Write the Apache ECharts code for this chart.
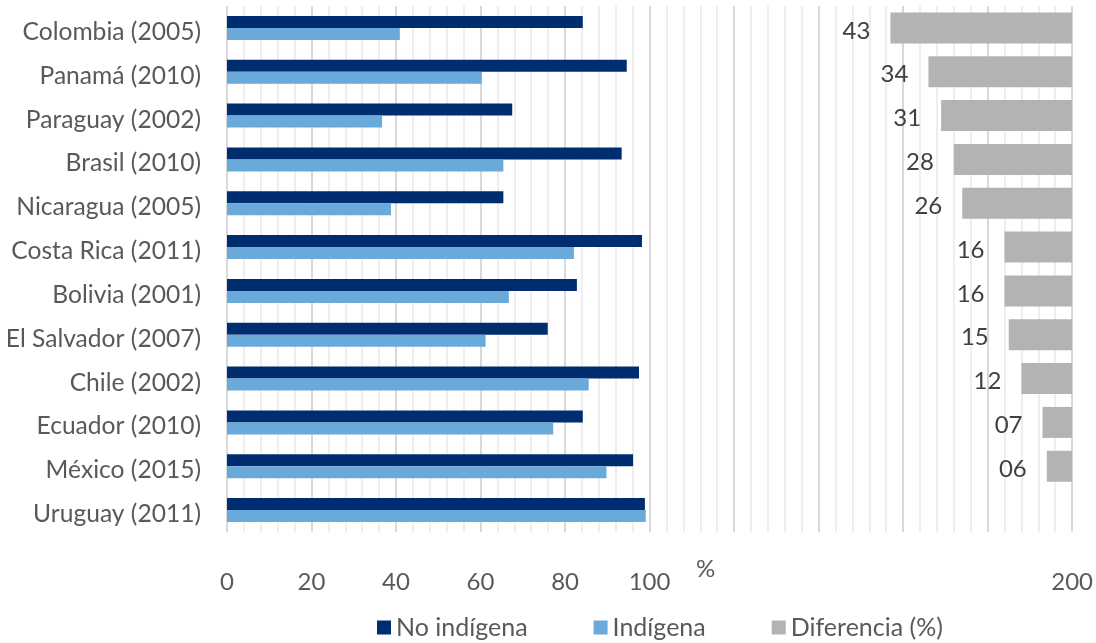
<!DOCTYPE html>
<html>
<head>
<meta charset="utf-8">
<script src="https://cdn.jsdelivr.net/npm/echarts@6/dist/echarts.min.js"></script>
<style>
  html, body { margin: 0; padding: 0; background: #fff; }
  #chart { width: 1096px; height: 643px; }
</style>
</head>
<body>
<div id="chart"></div>
<script>
// Países y año del censo
const categories = [
  'Colombia (2005)', 'Panamá (2010)', 'Paraguay (2002)', 'Brasil (2010)',
  'Nicaragua (2005)', 'Costa Rica (2011)', 'Bolivia (2001)', 'El Salvador (2007)',
  'Chile (2002)', 'Ecuador (2010)', 'México (2015)', 'Uruguay (2011)'
];
// Porcentajes por población
const noIndigena = [84.2, 94.6, 67.5, 93.4, 65.4, 98.2, 82.8, 75.9, 97.5, 84.2, 96.1, 98.9];
const indigena   = [40.9, 60.3, 36.7, 65.4, 38.8, 82.1, 66.7, 61.2, 85.6, 77.2, 89.8, 99.1];
// Brecha entre ambos grupos
const diferencia = [43, 34, 31, 28, 26, 16, 16, 15, 12, 7, 6, '-'];
// Marcas del eje horizontal que llevan texto
const tickLabels = [0, 20, 40, 60, 80, 100, 200];

const FONT = 'Lato';
const TEXT = '#595959';

const chart = echarts.init(document.getElementById('chart'));
chart.setOption({
  animation: false,
  textStyle: { fontFamily: FONT },
  grid: { left: 227, right: 23, top: 6, bottom: 111, containLabel: false },
  legend: {
    left: 372, top: 610,
    itemWidth: 14, itemHeight: 14, itemGap: 66,
    icon: 'rect',
    textStyle: { fontFamily: FONT, fontSize: 25, color: TEXT },
    data: ['No indígena', 'Indígena', 'Diferencia (%)']
  },
  xAxis: [
    {
      type: 'value', min: 0, max: 200, interval: 20,
      axisLine: { show: false }, axisTick: { show: false },
      axisLabel: {
        margin: 38, fontSize: 24, color: TEXT, fontFamily: FONT,
        formatter: v => tickLabels.includes(v) ? String(v) : ''
      },
      splitLine: { show: true, lineStyle: { color: '#d9d9d9', width: 2 } },
      minorTick: { show: false, splitNumber: 5 },
      minorSplitLine: { show: true, lineStyle: { color: '#eeeeee', width: 2 } }
    },
    {
      type: 'value', min: 0, max: 200, inverse: true, show: false,
      splitLine: { show: false }
    }
  ],
  yAxis: [
    {
      type: 'category', data: categories, inverse: true,
      axisLine: { show: false }, axisTick: { show: false },
      axisLabel: {
        margin: 26, fontSize: 24.6, color: TEXT, fontFamily: FONT,
        verticalAlign: 'top', lineHeight: 8
      }
    },
    {
      type: 'category', data: categories, inverse: true, show: false
    }
  ],
  graphic: [
    {
      type: 'text', left: 696, top: 557,
      style: { text: '%', fontSize: 24, fill: TEXT, fontFamily: FONT }
    }
  ],
  series: [
    {
      name: 'No indígena', type: 'bar', xAxisIndex: 0, yAxisIndex: 0,
      data: noIndigena, barWidth: 12, barGap: '0%',
      itemStyle: { color: '#002d6f' }
    },
    {
      name: 'Indígena', type: 'bar', xAxisIndex: 0, yAxisIndex: 0,
      data: indigena, barWidth: 12, barGap: '0%',
      itemStyle: { color: '#6aaadb' }
    },
    {
      name: 'Diferencia (%)', type: 'bar', xAxisIndex: 1, yAxisIndex: 1,
      data: diferencia, barWidth: 31,
      itemStyle: { color: '#b3b3b3' },
      label: {
        show: true, position: 'left', distance: 20, offset: [0, 3],
        fontSize: 24, color: '#404040', fontFamily: FONT,
        formatter: p => String(p.value).padStart(2, '0')
      }
    }
  ]
});
</script>
</body>
</html>
